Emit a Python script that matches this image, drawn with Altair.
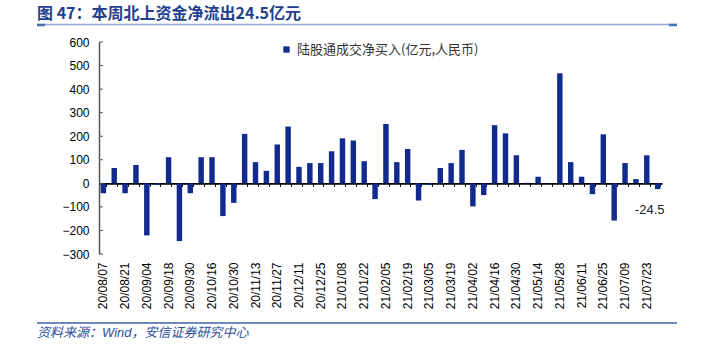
import altair as alt
import pandas as pd

# ---------------- data ----------------
dates = [
    "20/08/07", "20/08/14", "20/08/21", "20/08/28", "20/09/04", "20/09/11", "20/09/18", "20/09/25",
    "20/09/30", "20/10/09", "20/10/16", "20/10/23", "20/10/30", "20/11/06", "20/11/13", "20/11/20",
    "20/11/27", "20/12/04", "20/12/11", "20/12/18", "20/12/25", "20/12/31", "21/01/08", "21/01/15",
    "21/01/22", "21/01/29", "21/02/05", "21/02/10", "21/02/19", "21/02/26", "21/03/05", "21/03/12",
    "21/03/19", "21/03/26", "21/04/02", "21/04/09", "21/04/16", "21/04/23", "21/04/30", "21/05/07",
    "21/05/14", "21/05/21", "21/05/28", "21/06/04", "21/06/11", "21/06/18", "21/06/25", "21/07/02",
    "21/07/09", "21/07/16", "21/07/23", "21/07/30",
]
values = [
    -42, 65, -42, 78, -221, -7, 111, -245,
    -42, 111, 111, -139, -83, 210, 90, 53,
    165, 241, 70, 86, 86, 136, 191, 182,
    94, -67, 252, 90, 146, -73, -7, 65,
    86, 142, -98, -50, 247, 212, 119, 2,
    28, -2, 467, 90, 28, -46, 208, -158,
    86, 18, 119, -24.5,
]
tick_labels = dates[::2]
y_ticks = [-300, -200, -100, 0, 100, 200, 300, 400, 500, 600]
series_name = "陆股通成交净买入(亿元,人民币)"
title_text = "图 47：本周北上资金净流出24.5亿元"
source_text = "资料来源：Wind，安信证券研究中心"
annot_label = ["-24.5"]

# ---------------- style ----------------
BAR = "#112a8e"
W, H = 563, 212
FONT = "Liberation Sans, Noto Sans CJK SC, sans-serif"
CJK = "Noto Sans CJK SC, Liberation Sans, sans-serif"

df = pd.DataFrame({"date": dates, "value": values, "series": series_name})
last = df.tail(1).assign(label=annot_label)
tick_df = pd.DataFrame({"value": y_ticks})
one = pd.DataFrame({"a": [0]})

yscale = alt.Scale(domain=[-300, 600], nice=False, zero=False)
xscale = alt.Scale(paddingInner=0.5, paddingOuter=0.15)
Y_AXIS = alt.Axis(values=y_ticks, ticks=False, domainColor="#555", domainWidth=1.5,
                  labelPadding=10, labelFontSize=12, labelFont=FONT, labelColor="#000",
                  grid=False, title=None)

bars = alt.Chart(df).mark_bar(color=BAR).encode(
    x=alt.X("date:N", sort=dates, scale=xscale,
            axis=alt.Axis(orient="bottom", values=tick_labels, labelAngle=270, domain=False,
                          ticks=False, labelPadding=8, labelFontSize=12, labelFont=FONT,
                          labelColor="#000", title=None)),
    y=alt.Y("value:Q", scale=yscale, axis=Y_AXIS),
    color=alt.Color("series:N", scale=alt.Scale(range=[BAR]),
                    legend=alt.Legend(orient="none", legendX=181, legendY=1, title=None,
                                      symbolType="square", symbolSize=40, symbolStrokeWidth=0,
                                      labelFontSize=13, labelFont=CJK, labelColor="#333",
                                      labelLimit=400, padding=0, labelOffset=4)),
)

zero_axis = alt.Chart(df).mark_tick(opacity=0).encode(
    x=alt.X("date:N", sort=dates,
            axis=alt.Axis(orient="bottom", offset=-(H / 3), labels=False, ticks=True,
                          tickBand="extent", tickSize=3, tickColor="#000", tickWidth=1,
                          domainColor="#000", domainWidth=1.6, title=None)),
)

yt = alt.Chart(tick_df).mark_rule(color="#555", strokeWidth=1).encode(
    y=alt.Y("value:Q", scale=yscale, axis=Y_AXIS), x=alt.value(0), x2=alt.value(4)
)

annot = alt.Chart(last).mark_text(fontSize=13, font=FONT, color="#222", dx=-8, dy=21).encode(
    x=alt.X("date:N", sort=dates, axis=None),
    y=alt.Y("value:Q", scale=yscale, axis=Y_AXIS),
    text="label:N",
)

title = alt.Chart(one).mark_text(align="left", baseline="alphabetic", fontSize=16,
                                 fontWeight="bold", font=CJK, color="#22408f").encode(
    x=alt.value(-62), y=alt.value(-23), text=alt.value(title_text)
)
tline = alt.Chart(one).mark_rule(color="#8fa7d6", strokeWidth=1.5).encode(
    x=alt.value(-62), x2=alt.value(578), y=alt.value(-17.5)
)
tseg1 = alt.Chart(one).mark_rule(color="#4a6db3", strokeWidth=2.5).encode(
    x=alt.value(-62), x2=alt.value(-54), y=alt.value(-17)
)
tseg2 = alt.Chart(one).mark_rule(color="#4a6db3", strokeWidth=2.5).encode(
    x=alt.value(570), x2=alt.value(578), y=alt.value(-17)
)
fline = alt.Chart(one).mark_rule(color="#3f5fae", strokeWidth=1.5).encode(
    x=alt.value(-62), x2=alt.value(578), y=alt.value(281)
)
source = alt.Chart(one).mark_text(align="left", baseline="alphabetic", fontSize=13,
                                  fontStyle="italic", font=FONT, color="#2d4f9e").encode(
    x=alt.value(-62), y=alt.value(295), text=alt.value(source_text)
)

chart = alt.layer(bars, zero_axis, yt, annot, title, tline, tseg1, tseg2, fline, source).resolve_axis(
    x="independent"
).properties(
    width=W, height=H,
    autosize=alt.AutoSizeParams(type="none"),
    padding={"left": 99, "top": 42, "right": 711 - 99 - W, "bottom": 351 - 42 - H},
    background="white",
).configure_view(stroke=None).configure_axis(grid=False)

chart.save("out.html", embed_options={"renderer": "svg", "actions": False})
